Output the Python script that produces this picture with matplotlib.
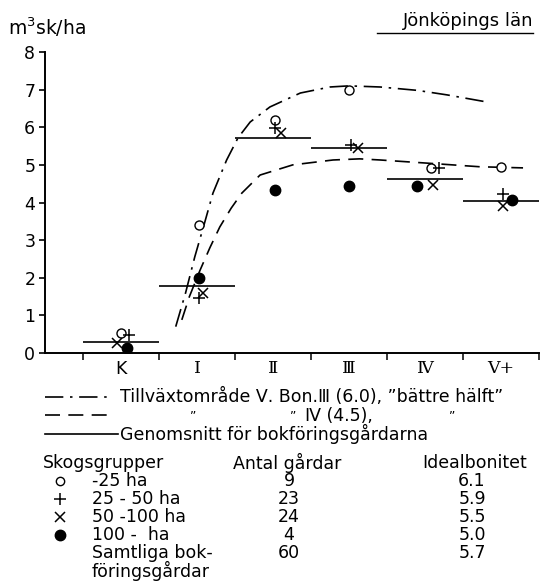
import matplotlib
matplotlib.use('Agg')
import matplotlib.pyplot as plt

plt.rcParams['font.family'] = ['DejaVu Sans']
plt.rcParams['mathtext.default'] = 'regular'

# Categories (Bonitet classes) on the x axis
categories = ['K', 'Ⅰ', 'Ⅱ', 'Ⅲ', 'Ⅳ', 'Ⅴ+']

# Average for the bookkeeping farms per class
avg_all = [0.28, 1.78, 5.72, 5.45, 4.63, 4.04]

# Forest groups, values per class (x position)
small_x = [0.0, 1.03, 2.03, 3.0, 4.08, 5.0]
small_y = [0.53, 3.40, 6.20, 7.00, 4.92, 4.95]
mid_x = [0.1, 1.03, 2.03, 3.02, 4.18, 5.02]
mid_y = [0.48, 1.46, 5.98, 5.53, 4.92, 4.23]
large_x = [-0.05, 1.08, 2.1, 3.12, 4.1, 5.03]
large_y = [0.27, 1.60, 5.85, 5.45, 4.47, 3.90]
xl_x = [0.08, 1.02, 2.03, 3.0, 3.9, 5.15]
xl_y = [0.13, 2.00, 4.33, 4.44, 4.44, 4.07]

# Growth curves (Tillväxtområde V, Bon. III and IV)
curve3_x = [0.72, 0.85, 0.97, 1.10, 1.21, 1.39, 1.54, 1.70, 1.96, 2.36, 2.75, 3.00, 3.41, 3.90, 4.29, 4.79]
curve3_y = [0.70, 1.60, 2.55, 3.46, 4.25, 5.13, 5.72, 6.14, 6.54, 6.91, 7.07, 7.10, 7.07, 6.98, 6.86, 6.68]
curve4_x = [0.80, 0.90, 1.04, 1.17, 1.30, 1.45, 1.59, 1.83, 2.26, 2.79, 3.14, 3.41, 4.00, 4.72, 5.29]
curve4_y = [0.88, 1.50, 2.20, 2.80, 3.35, 3.85, 4.25, 4.73, 5.00, 5.13, 5.16, 5.13, 5.05, 4.95, 4.92]

# Table below the chart
group_symbols = ['o', '+', 'x', 'filled', '']
group_labels = ['-25 ha', '25 - 50 ha', '50 -100 ha', '100 -  ha', 'Samtliga bok-']
farm_counts = ['9', '23', '24', '4', '60']
ideal_bonitet = ['6.1', '5.9', '5.5', '5.0', '5.7']

W, H = 540, 585
fig = plt.figure(figsize=(W / 100, H / 100), dpi=100)
ax = fig.add_axes([45 / W, 1 - 353 / H, 494 / W, 301 / H])

lw = 1.2
dashdot = (0, (11, 4, 1.5, 4))
dashed = (0, (9, 5))
ax.plot(curve3_x, curve3_y, color='black', lw=lw, ls=dashdot)
ax.plot(curve4_x, curve4_y, color='black', lw=lw, ls=dashed)
for i, v in enumerate(avg_all):
    ax.plot([i - 0.5, i + 0.5], [v, v], color='black', lw=lw, solid_capstyle='butt')

ax.plot(small_x, small_y, 'o', ms=6.5, mfc='white', mec='black', mew=1.0, ls='none')
ax.plot(mid_x, mid_y, '+', ms=9, mec='black', mew=1.1, ls='none')
ax.plot(large_x, large_y, 'x', ms=7, mec='black', mew=1.1, ls='none')
ax.plot(xl_x, xl_y, 'o', ms=7.5, mfc='black', mec='black', ls='none')

ax.set_xlim(-1, 5.5)
ax.set_ylim(0, 8)
ax.spines['top'].set_visible(False)
ax.spines['right'].set_visible(False)
ax.spines['left'].set_linewidth(1.4)
ax.spines['bottom'].set_linewidth(1.4)
ax.set_yticks(range(0, 9))
ax.tick_params(axis='y', direction='out', length=4, width=1.2, labelsize=12.5, pad=3)
ax.set_xticks([i - 0.5 for i in range(len(categories) + 1)])
ax.set_xticklabels([])
ax.tick_params(axis='x', which='major', direction='out', length=5, width=1.1)
ax.set_xticks(range(len(categories)), minor=True)
ax.set_xticklabels(categories, minor=True, fontsize=12.5)
for lab in ax.get_xticklabels(minor=True)[1:]:
    lab.set_fontfamily('DejaVu Serif')
ax.tick_params(axis='x', which='minor', length=0, pad=5)

# overlay for texts in pixel coordinates
ov = fig.add_axes([0, 0, 1, 1])
ov.set_xlim(0, W)
ov.set_ylim(H, 0)
ov.axis('off')

fs = 12.5
ov.text(8, 27, r'm$^3$sk/ha', fontsize=13.5, va='center', ha='left')
ov.text(533, 21, 'Jönköpings län', fontsize=13, va='center', ha='right')
ov.plot([377, 533], [33, 33], color='black', lw=1.0)

# legend of lines
ov.plot([45, 112], [397, 397], color='black', lw=lw, ls=dashdot)
ov.text(120, 397, 'Tillväxtområde Ⅴ. Bon.Ⅲ (6.0), ”bättre hälft”', fontsize=fs, va='center')
ov.plot([45, 112], [415, 415], color='black', lw=lw, ls=dashed)
for qx in [193, 293, 452]:
    ov.text(qx, 416, '”', fontsize=9, va='center', ha='center')
ov.text(305, 416, 'Ⅳ (4.5),', fontsize=fs, va='center')
ov.plot([45, 118], [434, 434], color='black', lw=lw)
ov.text(120, 434, 'Genomsnitt för bokföringsgårdarna', fontsize=fs, va='center')

# table
ov.text(43, 463, 'Skogsgrupper', fontsize=fs, va='center')
ov.text(233, 463, 'Antal gårdar', fontsize=fs, va='center')
ov.text(422, 463, 'Idealbonitet', fontsize=fs, va='center')
row_y = [481, 499, 517, 535, 553]
for sym, lab, cnt, bon, y in zip(group_symbols, group_labels, farm_counts, ideal_bonitet, row_y):
    if sym == 'o':
        ov.plot(60, y, 'o', ms=6, mfc='white', mec='black', mew=1.0)
    elif sym == '+':
        ov.plot(60, y, '+', ms=9, mec='black', mew=1.1)
    elif sym == 'x':
        ov.plot(60, y, 'x', ms=7, mec='black', mew=1.1)
    elif sym == 'filled':
        ov.plot(60, y, 'o', ms=7.5, mfc='black', mec='black')
    ov.text(92, y, lab, fontsize=fs, va='center')
    ov.text(289, y, cnt, fontsize=fs, va='center', ha='center')
    ov.text(472, y, bon, fontsize=fs, va='center', ha='center')
ov.text(92, 571, 'föringsgårdar', fontsize=fs, va='center')

fig.savefig('out.png', dpi=100, facecolor='white')
